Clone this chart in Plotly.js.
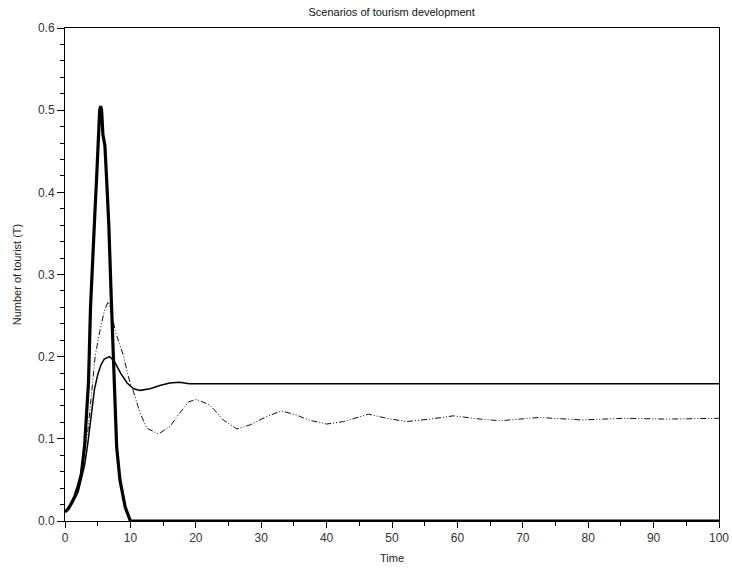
<!DOCTYPE html>
<html>
<head>
<meta charset="utf-8">
<script src="https://cdn.plot.ly/plotly-3.0.1.min.js"></script>
<style>html,body{margin:0;padding:0;background:#fff;}#chart{width:732px;height:569px;}</style>
</head>
<body>
<div id="chart"></div>
<script>
// Scenario A: boom and collapse (thick solid)
const tA = [0, 0.5, 1, 1.5, 2, 2.5, 3, 3.3, 3.6, 3.9, 4.3, 4.6, 4.85, 5.1, 5.3, 5.45, 5.6, 5.8, 6.1, 6.4, 6.7, 7.1, 7.4, 7.6, 7.9, 8.4, 9.2, 10, 20, 40, 60, 80, 100];
const yA = [0.011, 0.015, 0.022, 0.030, 0.042, 0.057, 0.092, 0.130, 0.170, 0.260, 0.340, 0.380, 0.420, 0.466, 0.500, 0.505, 0.500, 0.470, 0.457, 0.410, 0.360, 0.265, 0.196, 0.140, 0.090, 0.050, 0.017, 0.000, 0, 0, 0, 0, 0];

// Scenario B: stable equilibrium (thin solid)
const tB = [0, 1, 2, 3, 3.5, 4, 4.5, 5, 5.5, 6, 6.8, 7.5, 8.5, 9.5, 10.5, 11.5, 13, 14.5, 16, 17.5, 19, 30, 50, 70, 100];
const yB = [0.011, 0.020, 0.035, 0.068, 0.095, 0.130, 0.160, 0.178, 0.190, 0.197, 0.200, 0.195, 0.180, 0.168, 0.161, 0.159, 0.161, 0.165, 0.168, 0.169, 0.167, 0.167, 0.167, 0.167, 0.167];

// Scenario C: damped oscillation (dash-dot-dot)
const tC = [0, 1, 2, 3, 3.5, 4, 4.6, 5.35, 6, 6.6, 7.1, 7.65, 8.9, 9.94, 10.4, 11.5, 12.5, 14.3, 16.05, 17.3, 18.9, 20.1, 22.2, 24.2, 26.3, 28.3, 30.8, 33.1, 35.4, 37.2, 40, 42.6, 46.4, 49.2, 52.2, 55.8, 59.4, 63.5, 66.5, 72.5, 79, 85.5, 92, 100];
const yC = [0.011, 0.022, 0.040, 0.085, 0.110, 0.150, 0.200, 0.232, 0.255, 0.267, 0.255, 0.232, 0.202, 0.168, 0.159, 0.131, 0.113, 0.106, 0.115, 0.129, 0.145, 0.148, 0.141, 0.123, 0.112, 0.117, 0.127, 0.134, 0.129, 0.123, 0.118, 0.121, 0.130, 0.125, 0.121, 0.124, 0.128, 0.124, 0.122, 0.126, 0.123, 0.125, 0.124, 0.125];

const xTicks = [0, 10, 20, 30, 40, 50, 60, 70, 80, 90, 100];
const yTicks = [0.0, 0.1, 0.2, 0.3, 0.4, 0.5, 0.6];

const traces = [
  {x: tC, y: yC, mode: 'lines', line: {color: '#111', width: 1, dash: '6px,2px,1px,2px,1px,2px'}, hoverinfo: 'skip'},
  {x: tB, y: yB, mode: 'lines', line: {color: '#000', width: 1.5}, hoverinfo: 'skip'},
  {x: tA, y: yA, mode: 'lines', line: {color: '#000', width: 3.2}, hoverinfo: 'skip'}
];

const font = {family: 'Liberation Sans, Arial, sans-serif', size: 12, color: '#333'};
const layout = {
  width: 732, height: 569,
  margin: {l: 65, r: 13, t: 28, b: 48},
  paper_bgcolor: '#fff', plot_bgcolor: '#fff',
  showlegend: false,
  font: font,
  title: {text: 'Scenarios of tourism development', x: 0.535, xanchor: 'center', y: 0.979, yanchor: 'middle', font: {family: 'Liberation Sans, Arial, sans-serif', size: 11, color: '#111'}},
  xaxis: {
    range: [0, 100], tickvals: xTicks, ticktext: xTicks.map(String),
    ticks: 'outside', ticklen: 6, tickcolor: '#000', tickwidth: 1,
    minor: {dtick: 5, tick0: 0, ticks: 'outside', ticklen: 4, tickcolor: '#000', showgrid: false},
    showline: true, linecolor: '#000', linewidth: 1, mirror: true,
    showgrid: false, zeroline: false,
    title: {text: 'Time', standoff: 9, font: {family: 'Liberation Sans, Arial, sans-serif', size: 11, color: '#222'}},
    tickfont: font
  },
  yaxis: {
    range: [0, 0.6], tickvals: yTicks, ticktext: yTicks.map(v => v.toFixed(1)),
    ticks: 'outside', ticklen: 7, tickcolor: '#000', tickwidth: 1,
    minor: {dtick: 0.02, tick0: 0, ticks: 'outside', ticklen: 4, tickcolor: '#000', showgrid: false},
    showline: true, linecolor: '#000', linewidth: 1, mirror: true,
    showgrid: false, zeroline: false,
    title: {text: 'Number of tourist (T)', standoff: 14, font: {family: 'Liberation Sans, Arial, sans-serif', size: 11, color: '#222'}},
    tickfont: font
  }
};

Plotly.newPlot('chart', traces, layout, {displayModeBar: false, staticPlot: true});
</script>
</body>
</html>
